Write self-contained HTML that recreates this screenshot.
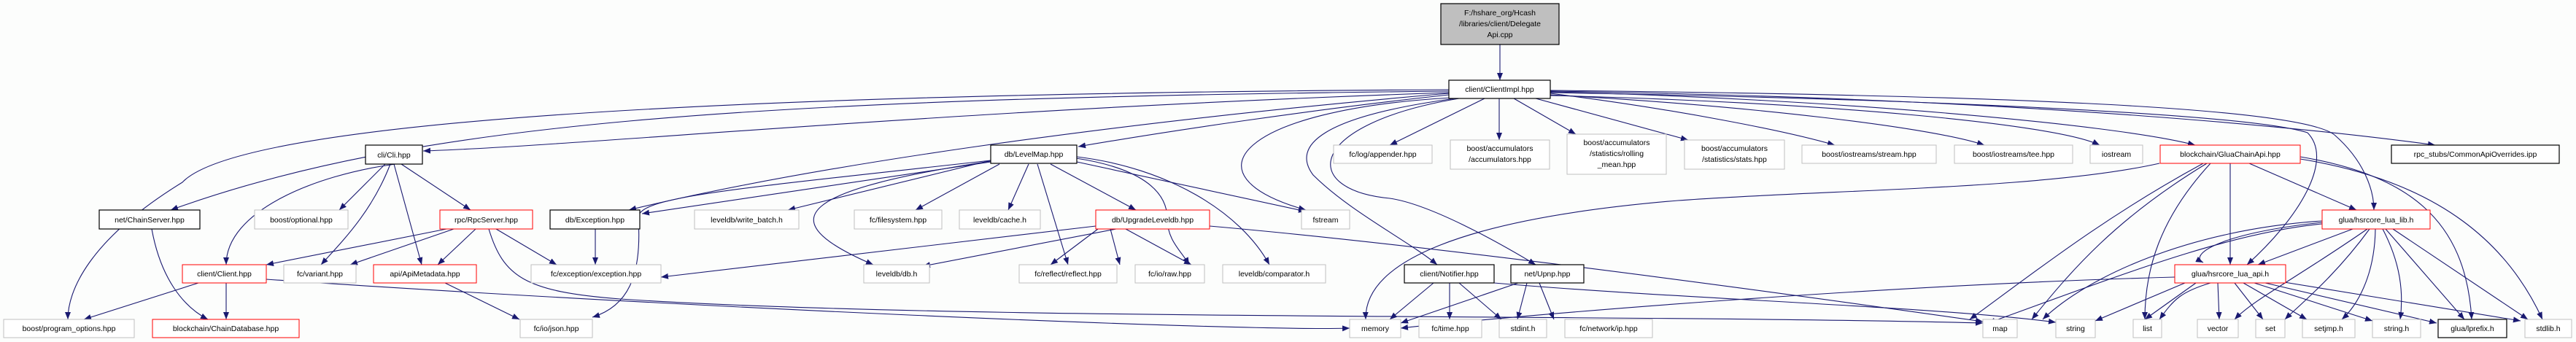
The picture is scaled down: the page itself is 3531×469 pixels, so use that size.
<!DOCTYPE html>
<html><head><meta charset="utf-8"><style>
html,body{margin:0;padding:0;background:#fcfdfc;}
svg{display:block}
text{font-family:"Liberation Sans",sans-serif;font-size:10.5px;fill:#000;text-anchor:middle}
.e{fill:none;stroke:#191970;stroke-width:1.1}
.g{fill:#fff;stroke:#bfbfbf;stroke-width:1}
.b{fill:#fff;stroke:#000;stroke-width:1.2}
.r{fill:#fff;stroke:#ff0000;stroke-width:1}
</style></head><body>
<svg width="3531" height="469" viewBox="0 0 3531 469" xmlns="http://www.w3.org/2000/svg">
<defs><marker id="a" markerWidth="10" markerHeight="8" refX="10" refY="4" orient="auto" markerUnits="userSpaceOnUse"><path d="M0,0 L10,4 L0,8 z" fill="#191970"/></marker></defs>
<g class="e" marker-end="url(#a)">
<path d="M2056,61 L2056,110"/>
<path d="M1986,123 C1000,128 330,165 250,250 C120,330 93,400 93,438"/>
<path d="M1986,125 C1000,135 560,170 234,288"/>
<path d="M1986,127 C1300,150 800,200 580,207"/>
<path d="M1986,128 C1500,170 1100,230 862,288"/>
<path d="M1986,130 C1800,150 1600,180 1478,201"/>
<path d="M1990,134 C1700,150 1620,240 1790,288"/>
<path d="M1995,135 C1810,160 1770,200 1800,240 C1850,290 1930,330 1970,363"/>
<path d="M2000,135 C1790,170 1780,260 1905,272 C1960,280 2050,330 2105,363"/>
<path d="M2035,135 L1905,199"/>
<path d="M2055,135 L2055,192"/>
<path d="M2075,135 L2160,184"/>
<path d="M2105,135 L2314,192"/>
<path d="M2125,128 C2300,150 2450,180 2515,199"/>
<path d="M2125,130 C2400,145 2650,175 2720,199"/>
<path d="M2125,131 C2500,140 2820,170 2878,199"/>
<path d="M2125,126 C2500,135 2900,170 3009,199"/>
<path d="M2125,127 C2600,135 3080,155 3163,182 C3200,220 3150,300 3080,363"/>
<path d="M2125,124 C2700,130 3150,145 3200,185 C3240,220 3254,260 3254,288"/>
<path d="M2125,125 C2800,135 3200,180 3338,199"/>
<path d="M2960,224 C2800,260 2500,260 2300,275 C2000,300 1870,360 1872,438"/>
<path d="M365,383 C900,420 1700,455 1850,450"/>
<path d="M670,314 C690,380 720,400 850,410 C1300,440 2200,430 2718,443"/>
<path d="M1658,310 C2000,340 2500,410 2718,441"/>
<path d="M2048,388 C2300,410 2650,420 2818,442"/>
<path d="M2981,380 C2600,390 2100,430 1920,450"/>
<path d="M1358,222 L880,293"/>
<path d="M1358,220 L1080,288"/>
<path d="M1370,225 L1255,288"/>
<path d="M1410,225 L1382,288"/>
<path d="M1440,225 L1557,288"/>
<path d="M1422,225 L1464,363"/>
<path d="M1475,217 C1560,230 1600,260 1600,300 C1600,330 1620,345 1630,363"/>
<path d="M1476,215 C1600,230 1700,290 1740,363"/>
<path d="M1476,222 L1790,290"/>
<path d="M1358,220 C1000,260 870,270 875,300 C880,380 860,420 812,435"/>
<path d="M1358,221 C1100,260 1050,300 1197,363"/>
<path d="M1502,310 L906,380"/>
<path d="M1530,314 L1265,365"/>
<path d="M1505,314 L1440,363"/>
<path d="M1522,314 L1535,363"/>
<path d="M1543,314 L1633,363"/>
<path d="M542,225 C430,240 310,290 310,363"/>
<path d="M528,225 L465,288"/>
<path d="M535,225 C510,290 470,330 440,363"/>
<path d="M540,225 L578,363"/>
<path d="M550,225 L645,288"/>
<path d="M612,314 L365,363"/>
<path d="M622,314 L480,363"/>
<path d="M652,314 L600,363"/>
<path d="M680,314 L763,363"/>
<path d="M816,314 L816,363"/>
<path d="M610,388 L712,438"/>
<path d="M208,314 C220,380 250,420 285,438"/>
<path d="M272,388 L115,438"/>
<path d="M310,388 L310,438"/>
<path d="M1965,388 L1905,438"/>
<path d="M1987,388 L1987,438"/>
<path d="M2000,388 L2058,438"/>
<path d="M2081,388 L1920,443"/>
<path d="M2093,388 L2080,438"/>
<path d="M2110,388 L2130,438"/>
<path d="M3020,224 C2880,300 2780,380 2700,438"/>
<path d="M3025,224 C2900,300 2840,370 2785,438"/>
<path d="M3030,224 C2960,300 2940,370 2940,438"/>
<path d="M3057,224 L3057,363"/>
<path d="M3083,224 L3230,288"/>
<path d="M3153,215 C3300,240 3380,300 3388,438"/>
<path d="M3153,218 C3350,250 3440,340 3485,438"/>
<path d="M3183,305 C3040,320 3000,350 3020,360"/>
<path d="M3225,314 L3095,363"/>
<path d="M3245,314 C3150,380 3090,410 3063,438"/>
<path d="M3248,314 C3200,380 3150,420 3132,438"/>
<path d="M3256,314 C3255,380 3230,420 3210,438"/>
<path d="M3266,314 C3290,360 3295,400 3290,438"/>
<path d="M3270,314 L3378,438"/>
<path d="M3280,314 L3465,438"/>
<path d="M3183,307 C3050,320 2900,380 2725,443"/>
<path d="M3183,303 C3000,315 2860,380 2800,438"/>
<path d="M3030,388 C2990,400 2980,410 2960,438"/>
<path d="M3040,388 L3042,438"/>
<path d="M3063,388 L3102,438"/>
<path d="M3075,388 L3162,438"/>
<path d="M3090,388 L3252,440"/>
<path d="M3105,388 L3340,443"/>
<path d="M3125,386 L3455,440"/>
<path d="M2995,388 L2872,440"/>
<path d="M3010,388 L2940,438"/>
</g>
<rect x="1975" y="5" width="162" height="56" fill="#bfbfbf" stroke="#000" stroke-width="1.2"/>
<text x="2056" y="21">F:/hshare_org/Hcash</text>
<text x="2056" y="36">/libraries/client/Delegate</text>
<text x="2056" y="51">Api.cpp</text>
<g>
<rect class="b" x="1986" y="110" width="139" height="25"/><text x="2055.5" y="126">client/ClientImpl.hpp</text>
<rect class="b" x="501" y="199" width="78" height="26"/><text x="540" y="216">cli/Cli.hpp</text>
<rect class="b" x="136" y="288" width="138" height="26"/><text x="205" y="305">net/ChainServer.hpp</text>
<rect class="g" x="349" y="288" width="128" height="26"/><text x="413" y="305">boost/optional.hpp</text>
<rect class="r" x="603" y="288" width="127" height="26"/><text x="666.5" y="305">rpc/RpcServer.hpp</text>
<rect class="b" x="754" y="288" width="123" height="26"/><text x="815.5" y="305">db/Exception.hpp</text>
<rect class="g" x="952" y="288" width="143" height="26"/><text x="1023.5" y="305">leveldb/write_batch.h</text>
<rect class="g" x="1171" y="288" width="120" height="26"/><text x="1231" y="305">fc/filesystem.hpp</text>
<rect class="g" x="1315" y="288" width="111" height="26"/><text x="1370.5" y="305">leveldb/cache.h</text>
<rect class="b" x="1358" y="199" width="118" height="25"/><text x="1417" y="215">db/LevelMap.hpp</text>
<rect class="r" x="1502" y="288" width="156" height="26"/><text x="1580" y="305">db/UpgradeLeveldb.hpp</text>
<rect class="g" x="1784" y="288" width="66" height="26"/><text x="1817" y="305">fstream</text>
<rect class="r" x="250" y="363" width="115" height="25"/><text x="307.5" y="379">client/Client.hpp</text>
<rect class="g" x="389" y="363" width="99" height="25"/><text x="438.5" y="379">fc/variant.hpp</text>
<rect class="r" x="512" y="363" width="141" height="25"/><text x="582.5" y="379">api/ApiMetadata.hpp</text>
<rect class="g" x="728" y="363" width="178" height="25"/><text x="817" y="379">fc/exception/exception.hpp</text>
<rect class="g" x="1184" y="363" width="90" height="25"/><text x="1229" y="379">leveldb/db.h</text>
<rect class="g" x="1397" y="363" width="134" height="25"/><text x="1464" y="379">fc/reflect/reflect.hpp</text>
<rect class="g" x="1556" y="363" width="95" height="25"/><text x="1603.5" y="379">fc/io/raw.hpp</text>
<rect class="g" x="1676" y="363" width="141" height="25"/><text x="1746.5" y="379">leveldb/comparator.h</text>
<rect class="g" x="5" y="438" width="179" height="25"/><text x="94.5" y="454">boost/program_options.hpp</text>
<rect class="r" x="209" y="438" width="201" height="25"/><text x="309.5" y="454">blockchain/ChainDatabase.hpp</text>
<rect class="g" x="713" y="438" width="99" height="25"/><text x="762.5" y="454">fc/io/json.hpp</text>
<rect class="g" x="1828" y="199" width="135" height="25"/><text x="1895.5" y="215">fc/log/appender.hpp</text>
<rect class="g" x="1988" y="192" width="136" height="40"/><text x="2056" y="207">boost/accumulators</text><text x="2056" y="222">/accumulators.hpp</text>
<rect class="g" x="2148" y="184" width="136" height="55"/><text x="2216" y="199">boost/accumulators</text><text x="2216" y="214">/statistics/rolling</text><text x="2216" y="229">_mean.hpp</text>
<rect class="g" x="2309" y="192" width="137" height="40"/><text x="2377.5" y="207">boost/accumulators</text><text x="2377.5" y="222">/statistics/stats.hpp</text>
<rect class="b" x="1925" y="363" width="123" height="25"/><text x="1986.5" y="379">client/Notifier.hpp</text>
<rect class="b" x="2071" y="363" width="100" height="25"/><text x="2121" y="379">net/Upnp.hpp</text>
<rect class="g" x="1850" y="438" width="70" height="25"/><text x="1885" y="454">memory</text>
<rect class="g" x="1945" y="438" width="86" height="25"/><text x="1988" y="454">fc/time.hpp</text>
<rect class="g" x="2055" y="438" width="65" height="25"/><text x="2087.5" y="454">stdint.h</text>
<rect class="g" x="2145" y="438" width="120" height="25"/><text x="2205" y="454">fc/network/ip.hpp</text>
<rect class="g" x="2470" y="199" width="184" height="25"/><text x="2562" y="215">boost/iostreams/stream.hpp</text>
<rect class="g" x="2679" y="199" width="162" height="25"/><text x="2760" y="215">boost/iostreams/tee.hpp</text>
<rect class="g" x="2865" y="199" width="72" height="25"/><text x="2901" y="215">iostream</text>
<rect class="r" x="2961" y="199" width="192" height="25"/><text x="3057" y="215">blockchain/GluaChainApi.hpp</text>
<rect class="b" x="3278" y="199" width="230" height="25"/><text x="3393" y="215">rpc_stubs/CommonApiOverrides.ipp</text>
<rect class="r" x="3183" y="288" width="148" height="26"/><text x="3257" y="305">glua/hsrcore_lua_lib.h</text>
<rect class="r" x="2981" y="363" width="152" height="25"/><text x="3057" y="379">glua/hsrcore_lua_api.h</text>
<rect class="g" x="2718" y="438" width="47" height="25"/><text x="2741.5" y="454">map</text>
<rect class="g" x="2818" y="438" width="54" height="25"/><text x="2845" y="454">string</text>
<rect class="g" x="2924" y="438" width="39" height="25"/><text x="2943.5" y="454">list</text>
<rect class="g" x="3012" y="438" width="56" height="25"/><text x="3040" y="454">vector</text>
<rect class="g" x="3092" y="438" width="40" height="25"/><text x="3112" y="454">set</text>
<rect class="g" x="3156" y="438" width="72" height="25"/><text x="3192" y="454">setjmp.h</text>
<rect class="g" x="3252" y="438" width="66" height="25"/><text x="3285" y="454">string.h</text>
<rect class="b" x="3342" y="438" width="94" height="25"/><text x="3389" y="454">glua/lprefix.h</text>
<rect class="g" x="3461" y="438" width="64" height="25"/><text x="3493" y="454">stdlib.h</text>
</g>
</svg>
</body></html>
